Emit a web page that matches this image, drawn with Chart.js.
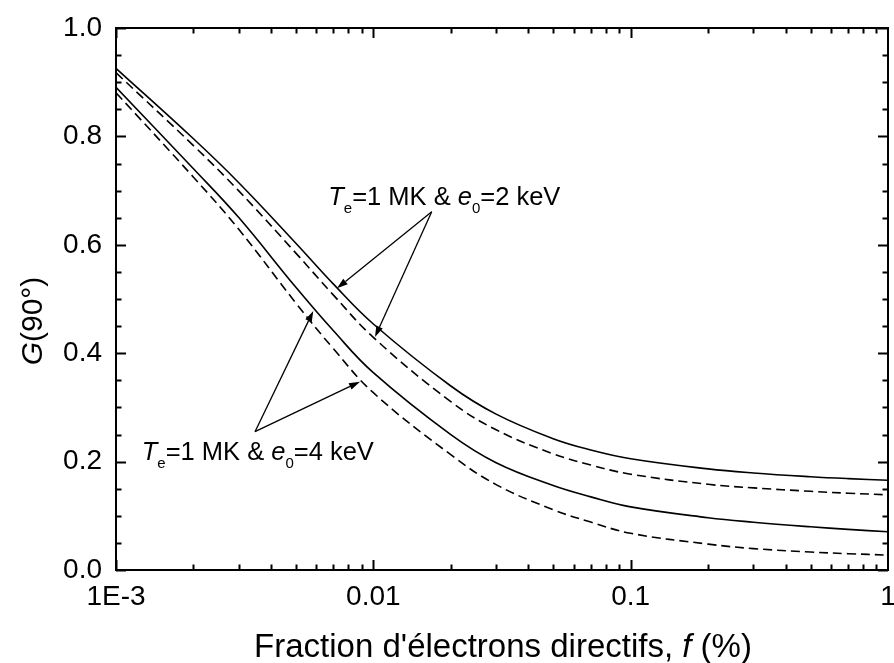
<!DOCTYPE html>
<html>
<head>
<meta charset="utf-8">
<script src="https://cdn.jsdelivr.net/npm/chart.js@4.4.1/dist/chart.umd.min.js"></script>
<style>
  html, body { margin: 0; padding: 0; background: #fff; }
  #wrap { width: 894px; height: 663px; }
</style>
</head>
<body>
<div id="wrap"><canvas id="chart" width="894" height="663"></canvas></div>
<script>
// Fraction of directive electrons f (%), sampled along the log axis
const fractions = [0.001, 0.002, 0.003, 0.005, 0.007, 0.01, 0.02, 0.03, 0.05, 0.07, 0.1, 0.2, 0.3, 0.5, 0.7, 1];

// G(90°) for Te = 1 MK, e0 = 2 keV
const g2keVSolid  = [0.9256, 0.7956, 0.7146, 0.6030, 0.5275, 0.4539, 0.3395, 0.2876, 0.2422, 0.2214, 0.2052, 0.1865, 0.1790, 0.1721, 0.1686, 0.1657];
const g2keVDashed = [0.9176, 0.7830, 0.6994, 0.5847, 0.5072, 0.4292, 0.3105, 0.2587, 0.2144, 0.1937, 0.1768, 0.1581, 0.1515, 0.1452, 0.1417, 0.1387];

// G(90°) for Te = 1 MK, e0 = 4 keV
const g4keVSolid  = [0.8906, 0.7404, 0.6502, 0.5216, 0.4413, 0.3640, 0.2496, 0.1978, 0.1557, 0.1349, 0.1164, 0.0965, 0.0882, 0.0797, 0.0749, 0.0705];
const g4keVDashed = [0.8806, 0.7247, 0.6286, 0.4926, 0.4081, 0.3271, 0.2127, 0.1576, 0.1113, 0.0884, 0.0677, 0.0478, 0.0395, 0.0332, 0.0301, 0.0275];

const xMajorTicks = [0.001, 0.01, 0.1, 1];
const xTickLabels = ['1E-3', '0.01', '0.1', '1'];
const yStep = 0.2;
const yMinorStep = 0.05;

const FONT = '"Liberation Sans", Arial, Helvetica, sans-serif';

const label2keV = [
    { text: 'T', italic: true }, { text: 'e', sub: true },
    { text: '=1 MK & ' }, { text: 'e', italic: true }, { text: '0', sub: true },
    { text: '=2 keV' }
];
const label4keV = [
    { text: 'T', italic: true }, { text: 'e', sub: true },
    { text: '=1 MK & ' }, { text: 'e', italic: true }, { text: '0', sub: true },
    { text: '=4 keV' }
];

// Annotation anchors, in data units (f, G)
const notes = [
    { runs: label2keV, at: [0.00668, 0.6734], from: [0.01686, 0.6611], tips: [[0.00722, 0.5197], [0.01015, 0.4299]] },
    { runs: label4keV, at: [0.001259, 0.2030], from: [0.003469, 0.2552], tips: [[0.005844, 0.4779], [0.008875, 0.3474]] }
];

function toPoints(ys) {
    return fractions.map((f, i) => ({ x: f, y: ys[i] }));
}

function curve(ys, dashed) {
    return {
        data: toPoints(ys),
        borderColor: '#000',
        borderWidth: 1.6,
        borderDash: dashed ? [9, 5] : [],
        pointRadius: 0,
        fill: false,
        tension: 0.4
    };
}

function runFont(run, size) {
    const s = run.sub ? Math.round(size * 0.6) : size;
    return (run.italic ? 'italic ' : '') + s + 'px ' + FONT;
}

function drawRuns(ctx, runs, x, y, size, align) {
    const widths = runs.map(r => { ctx.font = runFont(r, size); return ctx.measureText(r.text).width; });
    const total = widths.reduce((a, b) => a + b, 0);
    let cx = align === 'center' ? x - total / 2 : x;
    ctx.textAlign = 'left';
    ctx.textBaseline = 'alphabetic';
    runs.forEach((r, i) => {
        ctx.font = runFont(r, size);
        ctx.fillText(r.text, cx, y + (r.sub ? size * 0.32 : 0));
        cx += widths[i];
    });
}

function arrow(ctx, x0, y0, x1, y1) {
    const ang = Math.atan2(y1 - y0, x1 - x0);
    const head = 11, half = 3.5;
    const bx = x1 - head * Math.cos(ang), by = y1 - head * Math.sin(ang);
    ctx.beginPath();
    ctx.moveTo(x0, y0);
    ctx.lineTo(bx, by);
    ctx.stroke();
    ctx.beginPath();
    ctx.moveTo(x1, y1);
    ctx.lineTo(bx + half * Math.sin(ang), by - half * Math.cos(ang));
    ctx.lineTo(bx - half * Math.sin(ang), by + half * Math.cos(ang));
    ctx.closePath();
    ctx.fill();
}

// Frame with inward ticks on all four sides, arrows, labels and axis titles
const framePlugin = {
    id: 'framePlugin',
    afterDraw(chart) {
        const ctx = chart.ctx;
        const a = chart.chartArea;
        const xs = chart.scales.x, ys = chart.scales.y;
        ctx.save();
        ctx.strokeStyle = '#000';
        ctx.fillStyle = '#000';
        ctx.lineWidth = 2;
        ctx.strokeRect(a.left, a.top, a.right - a.left, a.bottom - a.top);

        const major = 10, minor = 5.5;
        ctx.beginPath();
        for (let d = -3; d < 0; d++) {
            for (let m = 1; m <= 9; m++) {
                const v = m * Math.pow(10, d);
                const px = Math.round(xs.getPixelForValue(v)) + 0.5;
                const len = m === 1 ? major : minor;
                ctx.moveTo(px, a.bottom); ctx.lineTo(px, a.bottom - len);
                ctx.moveTo(px, a.top); ctx.lineTo(px, a.top + len);
            }
        }
        for (let k = 0; k <= Math.round(1 / yMinorStep); k++) {
            const v = k * yMinorStep;
            const py = Math.round(ys.getPixelForValue(v)) + 0.5;
            const len = (k % Math.round(yStep / yMinorStep) === 0) ? major : minor;
            ctx.moveTo(a.left, py); ctx.lineTo(a.left + len, py);
            ctx.moveTo(a.right, py); ctx.lineTo(a.right - len, py);
        }
        ctx.stroke();

        // annotations
        ctx.lineWidth = 1.3;
        notes.forEach(n => {
            const ox = xs.getPixelForValue(n.from[0]), oy = ys.getPixelForValue(n.from[1]);
            n.tips.forEach(t => arrow(ctx, ox, oy, xs.getPixelForValue(t[0]), ys.getPixelForValue(t[1])));
            drawRuns(ctx, n.runs, xs.getPixelForValue(n.at[0]), ys.getPixelForValue(n.at[1]), 25.5, 'left');
        });

        // axis titles
        drawRuns(ctx, [
            { text: "Fraction d'électrons directifs, " },
            { text: 'f', italic: true },
            { text: ' (%)' }
        ], (a.left + a.right) / 2 + 1, 657, 33, 'center');

        ctx.save();
        ctx.translate(42, 321);
        ctx.rotate(-Math.PI / 2);
        drawRuns(ctx, [{ text: 'G', italic: true }, { text: '(90°)' }], 0, 0, 30, 'center');
        ctx.restore();

        ctx.restore();
    }
};

new Chart(document.getElementById('chart'), {
    type: 'line',
    data: {
        datasets: [
            curve(g2keVSolid, false),
            curve(g2keVDashed, true),
            curve(g4keVSolid, false),
            curve(g4keVDashed, true)
        ]
    },
    options: {
        responsive: false,
        animation: false,
        layout: { padding: { top: 28, right: 6, left: 0, bottom: 0 } },
        plugins: { legend: { display: false }, tooltip: { enabled: false } },
        scales: {
            x: {
                type: 'logarithmic',
                min: 0.001,
                max: 1,
                grid: { display: false, drawTicks: false },
                border: { display: false },
                afterBuildTicks: s => { s.ticks = xMajorTicks.map(v => ({ value: v })); },
                afterFit: s => { s.height = 93; s.paddingLeft = 0; s.paddingRight = 0; },
                ticks: {
                    autoSkip: false,
                    maxRotation: 0,
                    padding: 10,
                    color: '#000',
                    font: { family: FONT, size: 28 },
                    callback: (v, i) => xTickLabels[i]
                }
            },
            y: {
                min: 0,
                max: 1,
                grid: { display: false, drawTicks: false },
                border: { display: false },
                afterFit: s => { s.width = 116; s.paddingTop = 0; s.paddingBottom = 0; },
                ticks: {
                    stepSize: yStep,
                    padding: 14,
                    color: '#000',
                    font: { family: FONT, size: 28 },
                    callback: v => v.toFixed(1)
                }
            }
        }
    },
    plugins: [framePlugin]
});
</script>
</body>
</html>
